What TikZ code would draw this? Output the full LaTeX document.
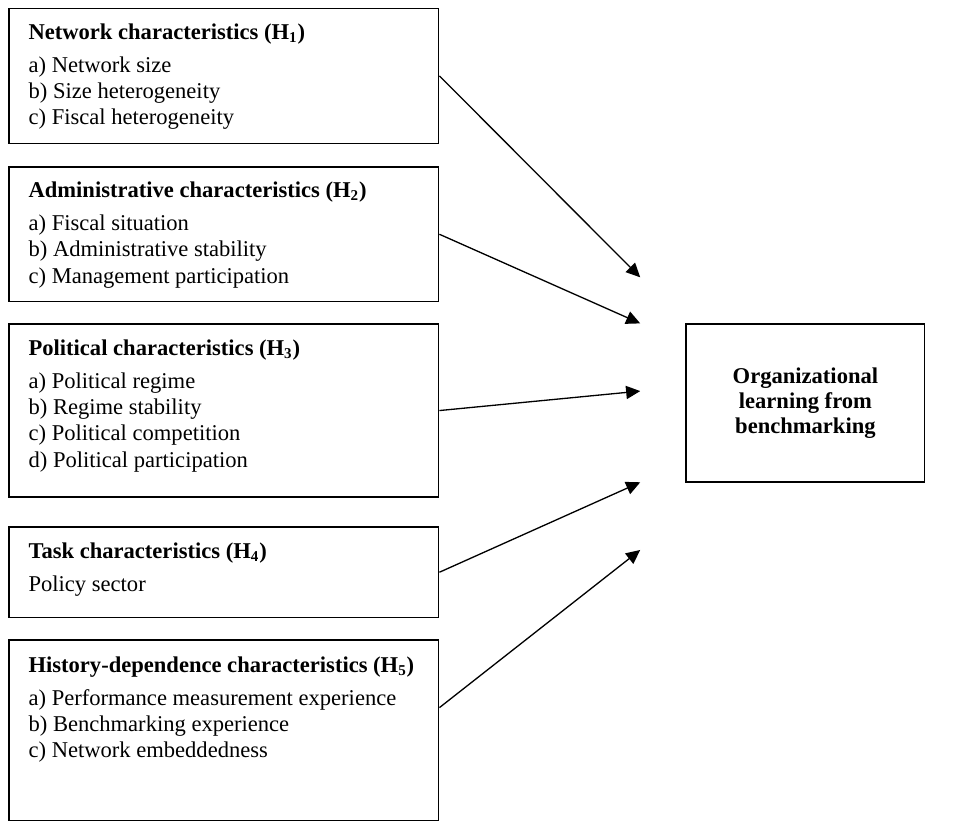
\documentclass[tikz,border=0pt]{standalone}
\usepackage{fontspec}
\setmainfont{Liberation Serif}
\usepackage{xcolor}
\definecolor{OLBInk}{HTML}{000000}
\usepackage{tikz}
\usetikzlibrary{arrows.meta,positioning,calc}

\begin{document}
\begin{tikzpicture}[x=0.5pt,y=-0.5pt,
  factorbox/.style={draw=OLBInk,line width=0.7pt,minimum width=228.5pt,inner sep=0pt,anchor=north west},
  factortext/.style={anchor=north west,inner sep=0pt,align=left,font=\fontsize{12}{14}\selectfont},
  causal/.style={draw=OLBInk,line width=0.7pt,-{Triangle[length=7.5pt,width=7pt]}}]
  \useasboundingbox (0,0) rectangle (1019,886);
  % left column: the five groups of determinants
  \node[factorbox,minimum height=72pt] (net) at (9,8) {};
  \node[factorbox,minimum height=71.5pt] (adm) at (9,177) {};
  \node[factorbox,minimum height=92pt] (pol) at (9,344) {};
  \node[factorbox,minimum height=48pt] (task) at (9,560) {};
  \node[factorbox,minimum height=96pt] (hist) at (9,680) {};
  \node[factortext] (net-txt) at ([xshift=10.5pt,yshift=-8.3pt]net.north west) {\textbf{Network characteristics (H\textsubscript{1})}\\[3.5pt]a) Network size\\b) Size heterogeneity\\c) Fiscal heterogeneity};
  \node[factortext] (adm-txt) at ([xshift=10.5pt,yshift=-8pt]adm.north west) {\textbf{Administrative characteristics (H\textsubscript{2})}\\[3.5pt]a) Fiscal situation\\b) Administrative stability\\c) Management participation};
  \node[factortext] (pol-txt) at ([xshift=10.5pt,yshift=-8.5pt]pol.north west) {\textbf{Political characteristics (H\textsubscript{3})}\\[3.5pt]a) Political regime\\b) Regime stability\\c) Political competition\\d) Political participation};
  \node[factortext] (task-txt) at ([xshift=10.5pt,yshift=-8.5pt]task.north west) {\textbf{Task characteristics (H\textsubscript{4})}\\[3.5pt]Policy sector};
  \node[factortext] (hist-txt) at ([xshift=10.5pt,yshift=-9pt]hist.north west) {\textbf{History-dependence characteristics (H\textsubscript{5})}\\[3.5pt]a) Performance measurement experience\\b) Benchmarking experience\\c) Network embeddedness};
  % outcome
  \node[factorbox,minimum width=127pt,minimum height=84pt,align=center,font=\bfseries\fontsize{12}{13.25}\selectfont] (learn) at (729,344) {Organizational\\learning from\\benchmarking};
  % arrows stop short of the outcome box
  \foreach \src/\ty in {net/295,adm/344,pol/416,task/513}{
    \coordinate (tip-\src) at (681,\ty);
    \draw[causal] (\src.east) -- (tip-\src);
  }
  \coordinate (tip-hist) at (681,585);
  \draw[causal] ([yshift=12pt]hist.east) -- (tip-hist);
\end{tikzpicture}
\end{document}
